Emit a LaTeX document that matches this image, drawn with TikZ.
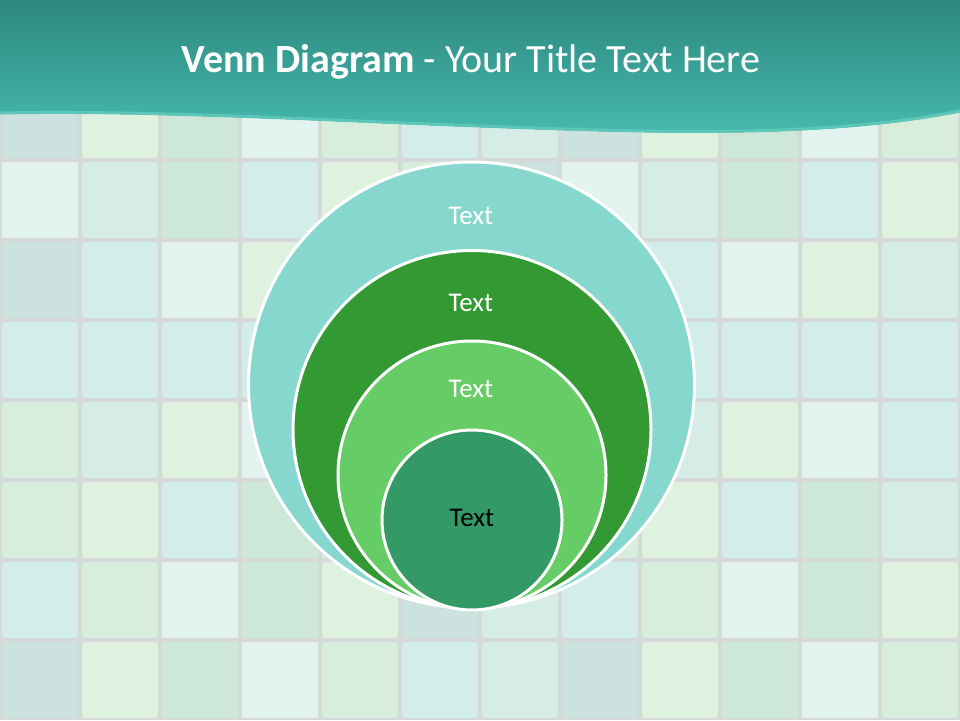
\documentclass[tikz,border=0pt]{standalone}
\usepackage{fontspec}
\setmainfont{Carlito}
\usetikzlibrary{positioning}
\definecolor{gapgray}{HTML}{D5D9D8}
\definecolor{hdrtop}{HTML}{2D887E}
\definecolor{hdrbot}{HTML}{47BBAF}
\definecolor{hdredge}{HTML}{5CC6B9}
\definecolor{ringA}{HTML}{86D8CF}
\definecolor{ringB}{HTML}{339933}
\definecolor{ringC}{HTML}{66CC66}
\definecolor{ringD}{HTML}{339966}
\definecolor{tileA}{HTML}{D3EDEB}
\definecolor{tileB}{HTML}{D8EEDC}
\definecolor{tileC}{HTML}{E3F4F0}
\definecolor{tileD}{HTML}{CDE7D8}
\definecolor{tileE}{HTML}{DFF1DF}
\definecolor{tileF}{HTML}{CCE2DF}
\definecolor{tileG}{HTML}{D6ECE6}
\tikzset{
  ring/.style={draw=white,line width=3pt,circle,inner sep=0pt},
  ringtxt/.style={font=\fontsize{27}{32}\selectfont,text=white,inner sep=1pt},
  tile/.style={rounded corners=2pt},
}

\begin{document}
\begin{tikzpicture}[x=1pt,y=-1pt]
\useasboundingbox (0,0) rectangle (960,720);
% tiled wall
\fill[gapgray] (0,0) rectangle (960,720);
\foreach \c in {0,...,11} {
  \foreach \r in {0,...,8} {
    \pgfmathtruncatemacro\k{mod(7*\c*\c+3*\r*\r+5*\c*\r+\c+2*\r,7)}
    \pgfmathsetmacro\tc{{"tileA","tileB","tileC","tileD","tileE","tileF","tileG"}[\k]}
    \fill[tile,\tc] (80*\c+2,80*\r+2) rectangle (80*\c+78,80*\r+78);
  }
}
% header band
\fill[top color=hdrtop,bottom color=hdrbot] (0,0) -- (960,0) -- (960,112)
  .. controls (820,140) and (640,133) .. (480,127)
  .. controls (320,121) and (150,111) .. (0,114) -- cycle;
\draw[hdredge,line width=3pt] (960,111) .. controls (820,139) and (640,132) .. (480,126)
  .. controls (320,120) and (150,110) .. (0,113);
\node[font=\fontsize{40}{48}\selectfont,text=white] (title) at (471,62)
  {\textbf{Venn Diagram} - Your Title Text Here};
% nested circles
\node[ring,fill=ringA,minimum size=446pt] (c1) at (471.5,385) {};
\node[ring,fill=ringB,minimum size=358pt] (c2) at (472,429.5) {};
\node[ring,fill=ringC,minimum size=268pt] (c3) at (472,475) {};
\node[ring,fill=ringD,minimum size=180pt] (c4) at (472,520) {};
\node[ringtxt] (t1) at (471,216) {Text};
\node[ringtxt] (t2) at (471,303) {Text};
\node[ringtxt] (t3) at (471,389) {Text};
\node[ringtxt,text=black] (t4) at (472,518) {Text};
\end{tikzpicture}
\end{document}
